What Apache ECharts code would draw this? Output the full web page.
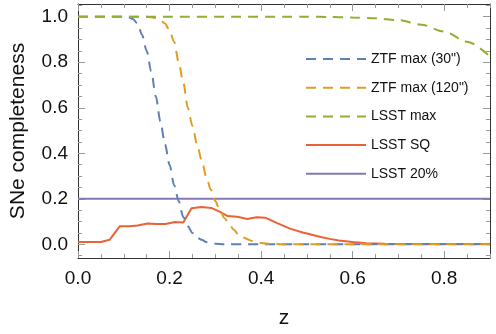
<!DOCTYPE html>
<html>
<head>
<meta charset="utf-8">
<script src="https://cdn.jsdelivr.net/npm/echarts@6/dist/echarts.min.js"></script>
<style>
  html, body { margin: 0; padding: 0; background: #fff; }
  #chart { width: 496px; height: 334px; }
</style>
</head>
<body>
<div id="chart"></div>
<script>
// values
const blueZ = [0, 0.10, 0.11, 0.12, 0.13, 0.14, 0.15, 0.16, 0.17, 0.18, 0.19, 0.20, 0.21, 0.22, 0.23, 0.24, 0.25, 0.26, 0.27, 0.28, 0.30, 0.32, 0.9]
const blueVals = [1, 1, 0.998, 0.99, 0.97, 0.92, 0.85, 0.76, 0.65, 0.54, 0.44, 0.35, 0.26, 0.19, 0.12, 0.08, 0.05, 0.03, 0.02, 0.01, 0.003, 0, 0]

const orangeZ = [0, 0.15, 0.17, 0.18, 0.19, 0.20, 0.21, 0.22, 0.23, 0.24, 0.25, 0.26, 0.27, 0.28, 0.29, 0.30, 0.31, 0.32, 0.33, 0.34, 0.35, 0.36, 0.38, 0.40, 0.42, 0.45, 0.9]
const orangeVals = [1, 1, 0.995, 0.985, 0.97, 0.94, 0.89, 0.80, 0.71, 0.60, 0.52, 0.44, 0.37, 0.30, 0.24, 0.19, 0.15, 0.115, 0.09, 0.065, 0.045, 0.03, 0.015, 0.006, 0.002, 0, 0]

const greenZ = [0, 0.5, 0.55, 0.6, 0.65, 0.7, 0.75, 0.8, 0.85, 0.9]
const greenVals = [1, 1, 0.999, 0.997, 0.993, 0.985, 0.965, 0.935, 0.89, 0.825]

const redZ = [0, 0.05, 0.069, 0.091, 0.112, 0.130, 0.152, 0.17, 0.191, 0.212, 0.230, 0.248, 0.270, 0.291, 0.309, 0.327, 0.348, 0.37, 0.39, 0.409, 0.434, 0.463, 0.491, 0.511, 0.53, 0.55, 0.57, 0.6, 0.63, 0.67, 0.75, 0.9]
const redVals = [0.01, 0.01, 0.02, 0.079, 0.079, 0.083, 0.092, 0.089, 0.089, 0.098, 0.096, 0.159, 0.164, 0.16, 0.144, 0.124, 0.121, 0.111, 0.119, 0.117, 0.094, 0.069, 0.052, 0.042, 0.032, 0.024, 0.017, 0.01, 0.005, 0.003, 0.002, 0.001]

const purpleZ = [0, 0.9]
const purpleVals = [0.2, 0.2]

const xMajor = [0, 0.2, 0.4, 0.6, 0.8]
const yMajor = [0, 0.2, 0.4, 0.6, 0.8, 1.0]

const font = 'Liberation Sans, Arial, sans-serif'
const frameColor = '#333'
const tickColor = '#999'

function pairs(xs, ys) {
  return xs.map((x, i) => [x, ys[i]])
}

// minor ticks every 0.05
function steps(lo, hi) {
  const out = []
  for (let i = Math.ceil(lo / 0.05); i * 0.05 <= hi + 1e-9; i++) out.push(+(i * 0.05).toFixed(2))
  return out
}

function xAxisCfg(position, major, withLabels) {
  return {
    type: 'value',
    position: position,
    min: 0,
    max: 0.9,
    splitLine: { show: false },
    axisLine: { show: !major, onZero: false, lineStyle: { color: frameColor, width: 1 } },
    axisTick: {
      inside: true,
      length: major ? 7 : 4,
      customValues: major ? xMajor : steps(0, 0.9),
      lineStyle: { color: tickColor }
    },
    axisLabel: withLabels ? {
      customValues: xMajor,
      formatter: v => v.toFixed(1),
      fontSize: 19,
      fontFamily: font,
      color: '#111',
      margin: 11
    } : { show: false },
    name: withLabels ? 'z' : '',
    nameLocation: 'middle',
    nameGap: 50,
    nameTextStyle: { fontSize: 21, fontFamily: font, color: '#111' }
  }
}

function yAxisCfg(position, major, withLabels) {
  return {
    type: 'value',
    position: position,
    min: -0.06,
    max: 1.056,
    splitLine: { show: false },
    axisLine: { show: !major, onZero: false, lineStyle: { color: frameColor, width: 1 } },
    axisTick: {
      inside: true,
      length: major ? 7 : 4,
      customValues: major ? yMajor : steps(-0.05, 1.05),
      lineStyle: { color: tickColor }
    },
    axisLabel: withLabels ? {
      customValues: yMajor,
      formatter: v => v.toFixed(1),
      fontSize: 19,
      fontFamily: font,
      color: '#111',
      margin: 10
    } : { show: false },
    name: withLabels ? 'SNe completeness' : '',
    nameLocation: 'middle',
    nameGap: 49,
    nameTextStyle: { fontSize: 21, fontFamily: font, color: '#111' }
  }
}

function lineSeries(name, xs, ys, color, dashed) {
  return {
    name: name,
    type: 'line',
    data: pairs(xs, ys),
    symbol: 'none',
    smooth: dashed ? 0.3 : false,
    smoothMonotone: 'x',
    lineStyle: { color: color, width: 2, type: dashed ? [10, 7] : 'solid' },
    itemStyle: { color: color },
    animation: false
  }
}

const chart = echarts.init(document.getElementById('chart'))
chart.setOption({
  backgroundColor: '#fff',
  grid: { left: 71, right: 6, top: 4, bottom: 71 },
  xAxis: [
    xAxisCfg('bottom', false, true),
    xAxisCfg('bottom', true, false),
    xAxisCfg('top', false, false),
    xAxisCfg('top', true, false)
  ],
  yAxis: [
    yAxisCfg('left', false, true),
    yAxisCfg('left', true, false),
    yAxisCfg('right', false, false),
    yAxisCfg('right', true, false)
  ],
  legend: {
    orient: 'vertical',
    left: 300,
    top: 47,
    itemWidth: 60,
    itemHeight: 14,
    itemGap: 14.7,
    itemStyle: { opacity: 0 },
    textStyle: { fontSize: 14, fontFamily: font, color: '#111' },
    data: ['ZTF max (30")', 'ZTF max (120")', 'LSST max', 'LSST SQ', 'LSST 20%']
  },
  series: [
    lineSeries('LSST 20%', purpleZ, purpleVals, '#8778B3', false),
    lineSeries('LSST SQ', redZ, redVals, '#EB6235', false),
    lineSeries('ZTF max (30")', blueZ, blueVals, '#5E81B5', true),
    lineSeries('ZTF max (120")', orangeZ, orangeVals, '#E19C24', true),
    lineSeries('LSST max', greenZ, greenVals, '#8FB032', true)
  ]
})
</script>
</body>
</html>
